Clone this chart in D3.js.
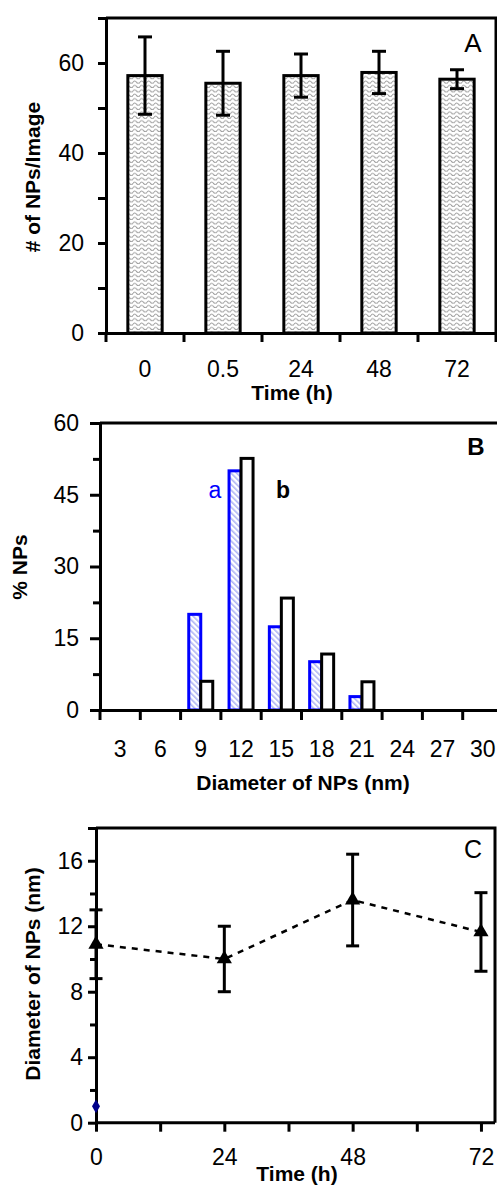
<!DOCTYPE html>
<html>
<head>
<meta charset="utf-8">
<script src="https://cdn.jsdelivr.net/npm/d3@7"></script>
<style>
  body { margin: 0; background: #fff; }
  text { font-family: Arial, "Liberation Sans", sans-serif; fill: #000; }
  .axis path, .axis line { stroke: #000; stroke-width: 3; }
  .axis text { font-size: 23px; font-family: Arial, "Liberation Sans", sans-serif; }
  .title { font-size: 21px; font-weight: bold; }
</style>
</head>
<body>
<svg width="497" height="1186"></svg>
<script>
// Panel A - NPs per image over time
var timesA = ["0", "0.5", "24", "48", "72"];
var countA = [57.2, 55.5, 57.2, 57.9, 56.4];
var countErrA = [8.6, 7.1, 4.8, 4.7, 2.1];

// Panel B - size distribution, two samples
var sizesB = [3, 6, 9, 12, 15, 18, 21, 24, 27, 30];
var pctA = [0, 0, 20, 50, 17.4, 10.1, 2.8, 0, 0, 0];
var pctB = [0, 0, 6, 52.6, 23.4, 11.7, 5.9, 0, 0, 0];

// Panel C - mean diameter over time
var timesC = [0, 24, 48, 72];
var diamC = [10.9, 10.0, 13.6, 11.65];
var diamErrC = [2.1, 2.0, 2.8, 2.4];
var strayPoint = [0, 1]; // the little blue diamond near the origin

var svg = d3.select("svg");
var defs = svg.append("defs");

// wavy grey fill for panel A bars
var wave = defs.append("pattern")
    .attr("id", "wave")
    .attr("patternUnits", "userSpaceOnUse")
    .attr("width", 7).attr("height", 4.4);
wave.append("rect").attr("width", 7).attr("height", 4.4).attr("fill", "#fff");
wave.append("path")
    .attr("d", "M0,3 Q1.75,0.6 3.5,3 T7,3")
    .attr("fill", "none").attr("stroke", "#9a9a9a").attr("stroke-width", 1);

// light blue diagonal hatch for series a
var hatch = defs.append("pattern")
    .attr("id", "hatch")
    .attr("patternUnits", "userSpaceOnUse")
    .attr("width", 4).attr("height", 4)
    .attr("patternTransform", "rotate(-45)");
hatch.append("rect").attr("width", 4).attr("height", 4).attr("fill", "#fff");
hatch.append("rect").attr("width", 1.6).attr("height", 4).attr("fill", "#aeb5f5");

function styleAxis(g) {
    g.attr("class", "axis");
    g.selectAll("path").attr("fill", "none");
}

// ---------------- Panel A ----------------
var gA = svg.append("g");
var xA = d3.scaleBand().domain(timesA).range([106, 496]);
var yA = d3.scaleLinear().domain([0, 70]).range([333, 18]);

gA.selectAll(".bar")
    .data(timesA)
    .enter()
    .append("rect")
    .attr("x", function (d) { return xA(d) + xA.bandwidth() * 0.28; })
    .attr("width", xA.bandwidth() * 0.44)
    .attr("y", function (d, i) { return yA(countA[i]); })
    .attr("height", function (d, i) { return yA(0) - yA(countA[i]); })
    .attr("fill", "url(#wave)")
    .attr("stroke", "#000").attr("stroke-width", 3);

// error bars
var errA = gA.selectAll(".err").data(timesA).enter().append("g");
errA.append("line")
    .attr("x1", function (d) { return xA(d) + xA.bandwidth() / 2; })
    .attr("x2", function (d) { return xA(d) + xA.bandwidth() / 2; })
    .attr("y1", function (d, i) { return yA(countA[i] + countErrA[i]); })
    .attr("y2", function (d, i) { return yA(countA[i] - countErrA[i]); });
[1, -1].forEach(function (s) {
    errA.append("line")
        .attr("x1", function (d) { return xA(d) + xA.bandwidth() / 2 - 7; })
        .attr("x2", function (d) { return xA(d) + xA.bandwidth() / 2 + 7; })
        .attr("y1", function (d, i) { return yA(countA[i] + s * countErrA[i]); })
        .attr("y2", function (d, i) { return yA(countA[i] + s * countErrA[i]); });
});
errA.selectAll("line").attr("stroke", "#000").attr("stroke-width", 3);

// box
gA.append("path")
    .attr("d", "M" + xA.range()[0] + "," + yA(70) + "H" + xA.range()[1] + "V" + yA(0))
    .attr("fill", "none").attr("stroke", "#000").attr("stroke-width", 3);

gA.append("g")
    .attr("transform", "translate(" + xA.range()[0] + ",0)")
    .call(d3.axisLeft(yA).tickValues(d3.range(0, 71, 10)).tickSize(8).tickSizeOuter(0).tickPadding(14)
        .tickFormat(function (d) { return (d % 20 === 0 && d < 70) ? d : ""; }))
    .call(styleAxis);

gA.append("g")
    .attr("transform", "translate(0," + yA(0) + ")")
    .call(d3.axisBottom(xA).tickSize(0).tickSizeOuter(0).tickPadding(28))
    .call(styleAxis);
// tick marks at the band edges
gA.append("g").selectAll("line")
    .data(timesA.concat(["end"]))
    .enter().append("line")
    .attr("x1", function (d) { return d === "end" ? xA.range()[1] : xA(d); })
    .attr("x2", function (d) { return d === "end" ? xA.range()[1] : xA(d); })
    .attr("y1", yA(0)).attr("y2", yA(0) + 9)
    .attr("stroke", "#000").attr("stroke-width", 3);

gA.append("text").attr("class", "title").attr("x", 292).attr("y", 400)
    .attr("text-anchor", "middle").text("Time (h)");
gA.append("text").attr("class", "title")
    .attr("transform", "translate(40,177) rotate(-90)")
    .attr("text-anchor", "middle").text("# of NPs/Image");
gA.append("text").attr("x", 473).attr("y", 52).attr("text-anchor", "middle")
    .style("font-size", "26px").text("A");

// ---------------- Panel B ----------------
var gB = svg.append("g");
var xB = d3.scaleBand().domain(sizesB).range([100, 503]);
var yB = d3.scaleLinear().domain([0, 60]).range([710, 423]);
var barW = 12;

gB.selectAll(".barA")
    .data(sizesB.filter(function (d, i) { return pctA[i] > 0; }))
    .enter().append("rect")
    .attr("x", function (d) { return xB(d) + xB.bandwidth() / 2 - barW; })
    .attr("width", barW)
    .attr("y", function (d) { return yB(pctA[sizesB.indexOf(d)]); })
    .attr("height", function (d) { return yB(0) - yB(pctA[sizesB.indexOf(d)]); })
    .attr("fill", "url(#hatch)")
    .attr("stroke", "#0000ff").attr("stroke-width", 3);

gB.selectAll(".barB")
    .data(sizesB.filter(function (d, i) { return pctB[i] > 0; }))
    .enter().append("rect")
    .attr("x", function (d) { return xB(d) + xB.bandwidth() / 2; })
    .attr("width", barW)
    .attr("y", function (d) { return yB(pctB[sizesB.indexOf(d)]); })
    .attr("height", function (d) { return yB(0) - yB(pctB[sizesB.indexOf(d)]); })
    .attr("fill", "#fff")
    .attr("stroke", "#000").attr("stroke-width", 3);

gB.append("line")
    .attr("x1", xB.range()[0]).attr("x2", 497)
    .attr("y1", yB(60)).attr("y2", yB(60))
    .attr("stroke", "#000").attr("stroke-width", 3);

var yAxisB = gB.append("g")
    .attr("transform", "translate(" + xB.range()[0] + ",0)")
    .call(d3.axisLeft(yB).tickValues(d3.range(0, 61, 7.5)).tickSize(10).tickSizeOuter(0).tickPadding(11)
        .tickFormat(function (d) { return d % 15 === 0 ? d : ""; }))
    .call(styleAxis);
yAxisB.selectAll(".tick line").attr("x2", function (d) { return d % 15 === 0 ? -10 : -7; });

gB.append("g")
    .attr("transform", "translate(0," + yB(0) + ")")
    .call(d3.axisBottom(xB).tickSize(0).tickSizeOuter(0).tickPadding(31))
    .call(styleAxis);
gB.append("g").selectAll("line")
    .data(sizesB)
    .enter().append("line")
    .attr("x1", function (d) { return xB(d); })
    .attr("x2", function (d) { return xB(d); })
    .attr("y1", yB(0)).attr("y2", yB(0) + 10)
    .attr("stroke", "#000").attr("stroke-width", 3);

gB.append("text").attr("class", "title").attr("x", 303).attr("y", 790)
    .attr("text-anchor", "middle").text("Diameter of NPs (nm)");
gB.append("text").attr("class", "title")
    .attr("transform", "translate(27,567) rotate(-90)")
    .attr("text-anchor", "middle").text("% NPs");
gB.append("text").attr("x", 215).attr("y", 498).attr("text-anchor", "middle")
    .style("font-size", "23px").style("fill", "#0000ff").text("a");
gB.append("text").attr("x", 283).attr("y", 498).attr("text-anchor", "middle")
    .style("font-size", "23px").style("font-weight", "bold").text("b");
gB.append("text").attr("x", 476).attr("y", 455).attr("text-anchor", "middle")
    .style("font-size", "24px").style("font-weight", "bold").text("B");

// ---------------- Panel C ----------------
var gC = svg.append("g");
var xC = d3.scaleLinear().domain([0, 75]).range([96, 497]);
var yC = d3.scaleLinear().domain([0, 18]).range([1122.7, 828]);

gC.append("path")
    .attr("d", "M" + xC(0) + "," + yC(18) + "H" + 495 + "V" + yC(0))
    .attr("fill", "none").attr("stroke", "#000").attr("stroke-width", 3);

var yAxisC = gC.append("g")
    .attr("transform", "translate(" + xC(0) + ",0)")
    .call(d3.axisLeft(yC).tickValues(d3.range(0, 19, 2)).tickSize(8).tickSizeOuter(0).tickPadding(5)
        .tickFormat(function (d) { return (d % 4 === 0 && d < 18) ? d : ""; }))
    .call(styleAxis);
yAxisC.selectAll(".tick line").attr("x2", function (d) { return d % 4 === 0 || d === 18 ? -8 : -6; });

gC.append("g")
    .attr("transform", "translate(0," + yC(0) + ")")
    .call(d3.axisBottom(xC).tickValues(d3.range(0, 73, 12)).tickSize(9).tickSizeOuter(0).tickPadding(17)
        .tickFormat(function (d) { return d % 24 === 0 ? d : ""; }))
    .call(styleAxis)
    .select(".domain").attr("d", "M" + xC(0) + ",0H495");

var line = d3.line()
    .x(function (d, i) { return xC(timesC[i]); })
    .y(function (d) { return yC(d); });
gC.append("path")
    .datum(diamC)
    .attr("d", line)
    .attr("fill", "none").attr("stroke", "#000").attr("stroke-width", 2.5)
    .attr("stroke-dasharray", "6,6");

var errC = gC.selectAll(".err").data(timesC).enter().append("g");
errC.append("line")
    .attr("x1", function (d) { return xC(d); }).attr("x2", function (d) { return xC(d); })
    .attr("y1", function (d, i) { return yC(diamC[i] + diamErrC[i]); })
    .attr("y2", function (d, i) { return yC(diamC[i] - diamErrC[i]); });
[1, -1].forEach(function (s) {
    errC.append("line")
        .attr("x1", function (d) { return xC(d) - 6.5; })
        .attr("x2", function (d) { return xC(d) + 6.5; })
        .attr("y1", function (d, i) { return yC(diamC[i] + s * diamErrC[i]); })
        .attr("y2", function (d, i) { return yC(diamC[i] + s * diamErrC[i]); });
});
errC.selectAll("line").attr("stroke", "#000").attr("stroke-width", 3);

gC.selectAll(".pt")
    .data(diamC)
    .enter().append("path")
    .attr("transform", function (d, i) { return "translate(" + xC(timesC[i]) + "," + yC(d) + ")"; })
    .attr("d", d3.symbol().type(d3.symbolTriangle).size(100))
    .attr("fill", "#000");

gC.append("path")
    .attr("transform", "translate(" + xC(strayPoint[0]) + "," + yC(strayPoint[1]) + ")")
    .attr("d", d3.symbol().type(d3.symbolDiamond).size(55))
    .attr("fill", "#00008b");

gC.append("text").attr("class", "title").attr("x", 297).attr("y", 1181)
    .attr("text-anchor", "middle").text("Time (h)");
gC.append("text").attr("class", "title")
    .attr("transform", "translate(40,974) rotate(-90)")
    .attr("text-anchor", "middle").text("Diameter of NPs (nm)");
gC.append("text").attr("x", 473).attr("y", 858).attr("text-anchor", "middle")
    .style("font-size", "25px").text("C");
</script>
</body>
</html>
